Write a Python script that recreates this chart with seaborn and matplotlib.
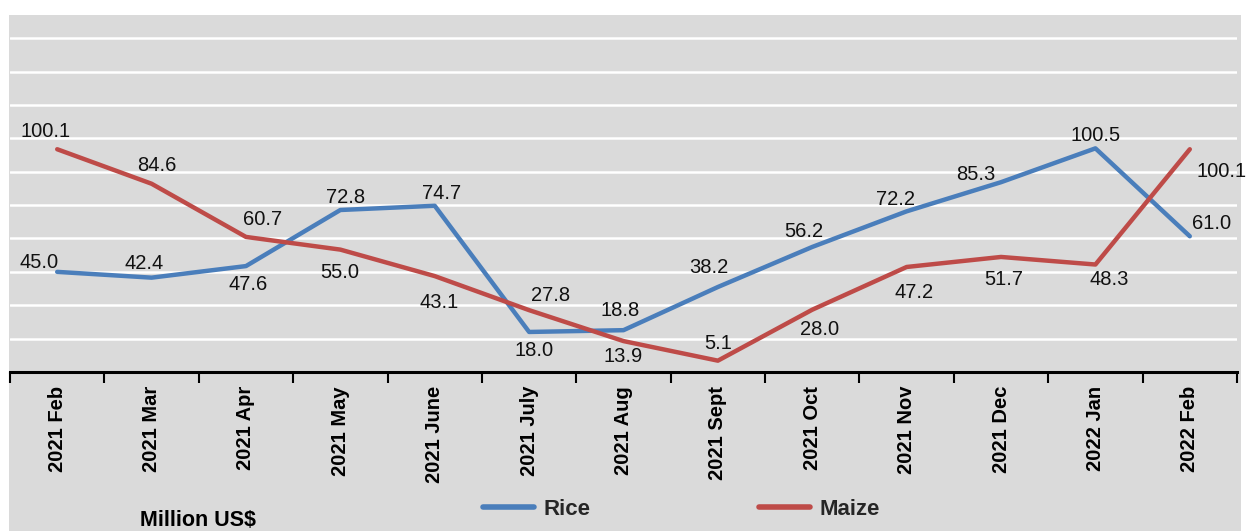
import numpy as np
import pandas as pd
import matplotlib.pyplot as plt
import matplotlib.ticker as ticker
from matplotlib.patches import Rectangle
import seaborn as sns

# valores (Million US$)
months = ['2021 Feb', '2021 Mar', '2021 Apr', '2021 May', '2021 June', '2021 July', '2021 Aug',
          '2021 Sept', '2021 Oct', '2021 Nov', '2021 Dec', '2022 Jan', '2022 Feb']
rice = [45.0, 42.4, 47.6, 72.8, 74.7, 18.0, 18.8, 38.2, 56.2, 72.2, 85.3, 100.5, 61.0]
maize = [100.1, 84.6, 60.7, 55.0, 43.1, 27.8, 13.9, 5.1, 28.0, 47.2, 51.7, 48.3, 100.1]

# posicion de las etiquetas (pixeles respecto al punto)
rice_offsets = [(-18, 9), (-7, 14), (2, -18), (5, 12), (7, 12), (5, -19), (-3, 20),
                (-9, 20), (-8, 15), (-11, 12), (-25, 8), (0, 13), (22, 13)]
maize_offsets = [(-12, 18), (5, 18), (17, 17), (-1, -23), (4, -26), (21, 15), (0, -15),
                 (0, 17), (7, -20), (7, -26), (3, -23), (14, -15), (32, -22)]

BG = '#dadada'
BLUE = '#4a7ebb'
RED = '#be4b48'

sns.set_style('white', {'axes.facecolor': BG})
plt.rcParams['font.family'] = ['Liberation Sans', 'DejaVu Sans']

df = pd.DataFrame({
    'Month': months * 2,
    'x': list(range(len(months))) * 2,
    'Value': rice + maize,
    'Crop': ['Rice'] * len(months) + ['Maize'] * len(months),
})

fig = plt.figure(figsize=(12.5, 5.31), dpi=100, facecolor='white')
fig.patches.append(Rectangle((0.007, 0), 0.986, 0.971, transform=fig.transFigure,
                             facecolor=BG, edgecolor='none', zorder=-10))
ax = fig.add_axes([0.008, 0.2994, 0.9816, 0.6706])

sns.lineplot(data=df, x='x', y='Value', hue='Crop', palette={'Rice': BLUE, 'Maize': RED},
             linewidth=3.2, ax=ax, legend=False, zorder=3)

for vals, offs in [(rice, rice_offsets), (maize, maize_offsets)]:
    for i, (v, (dx, dy)) in enumerate(zip(vals, offs)):
        ax.annotate(f'{v:.1f}', (i, v), xytext=(dx, dy), textcoords='offset pixels',
                    ha='center', va='center', fontsize=14.5, color='#111111', zorder=4)

ax.set_xlim(-0.5, len(months) - 0.5)
ax.set_ylim(0, 160)
ax.set_yticks(np.arange(15, 151, 15))
ax.yaxis.grid(True, color='white', linewidth=1.8)
ax.set_axisbelow(True)
ax.tick_params(axis='y', left=False, labelleft=False)

ax.set_xticks(range(len(months)))
ax.set_xticklabels(months, rotation=90, fontsize=14.5, fontweight='bold', color='black')
ax.xaxis.set_minor_locator(ticker.FixedLocator(np.arange(-0.5, len(months), 1.0)))
ax.tick_params(axis='x', which='major', bottom=False, length=0, pad=10)
ax.tick_params(axis='x', which='minor', bottom=True, length=8, width=1.5, color='black',
               direction='out')
ax.set_xlabel('')
ax.set_ylabel('')

for s in ['top', 'right', 'left']:
    ax.spines[s].set_visible(False)
ax.spines['bottom'].set_color('black')
ax.spines['bottom'].set_linewidth(2.2)

handles = [plt.Line2D([], [], color=BLUE, linewidth=4), plt.Line2D([], [], color=RED, linewidth=4)]
fig.legend(handles, ['Rice', 'Maize'], loc='center', bbox_to_anchor=(0.545, 0.04), ncol=2,
           frameon=False, handlelength=2.3, columnspacing=7.6, handletextpad=0.4,
           prop={'weight': 'bold', 'size': 16})
fig.text(0.112, 0.02, 'Million US$', fontsize=15.5, fontweight='bold', ha='left', va='center',
         color='black')

plt.savefig('out.png', dpi=100, facecolor=fig.get_facecolor())
